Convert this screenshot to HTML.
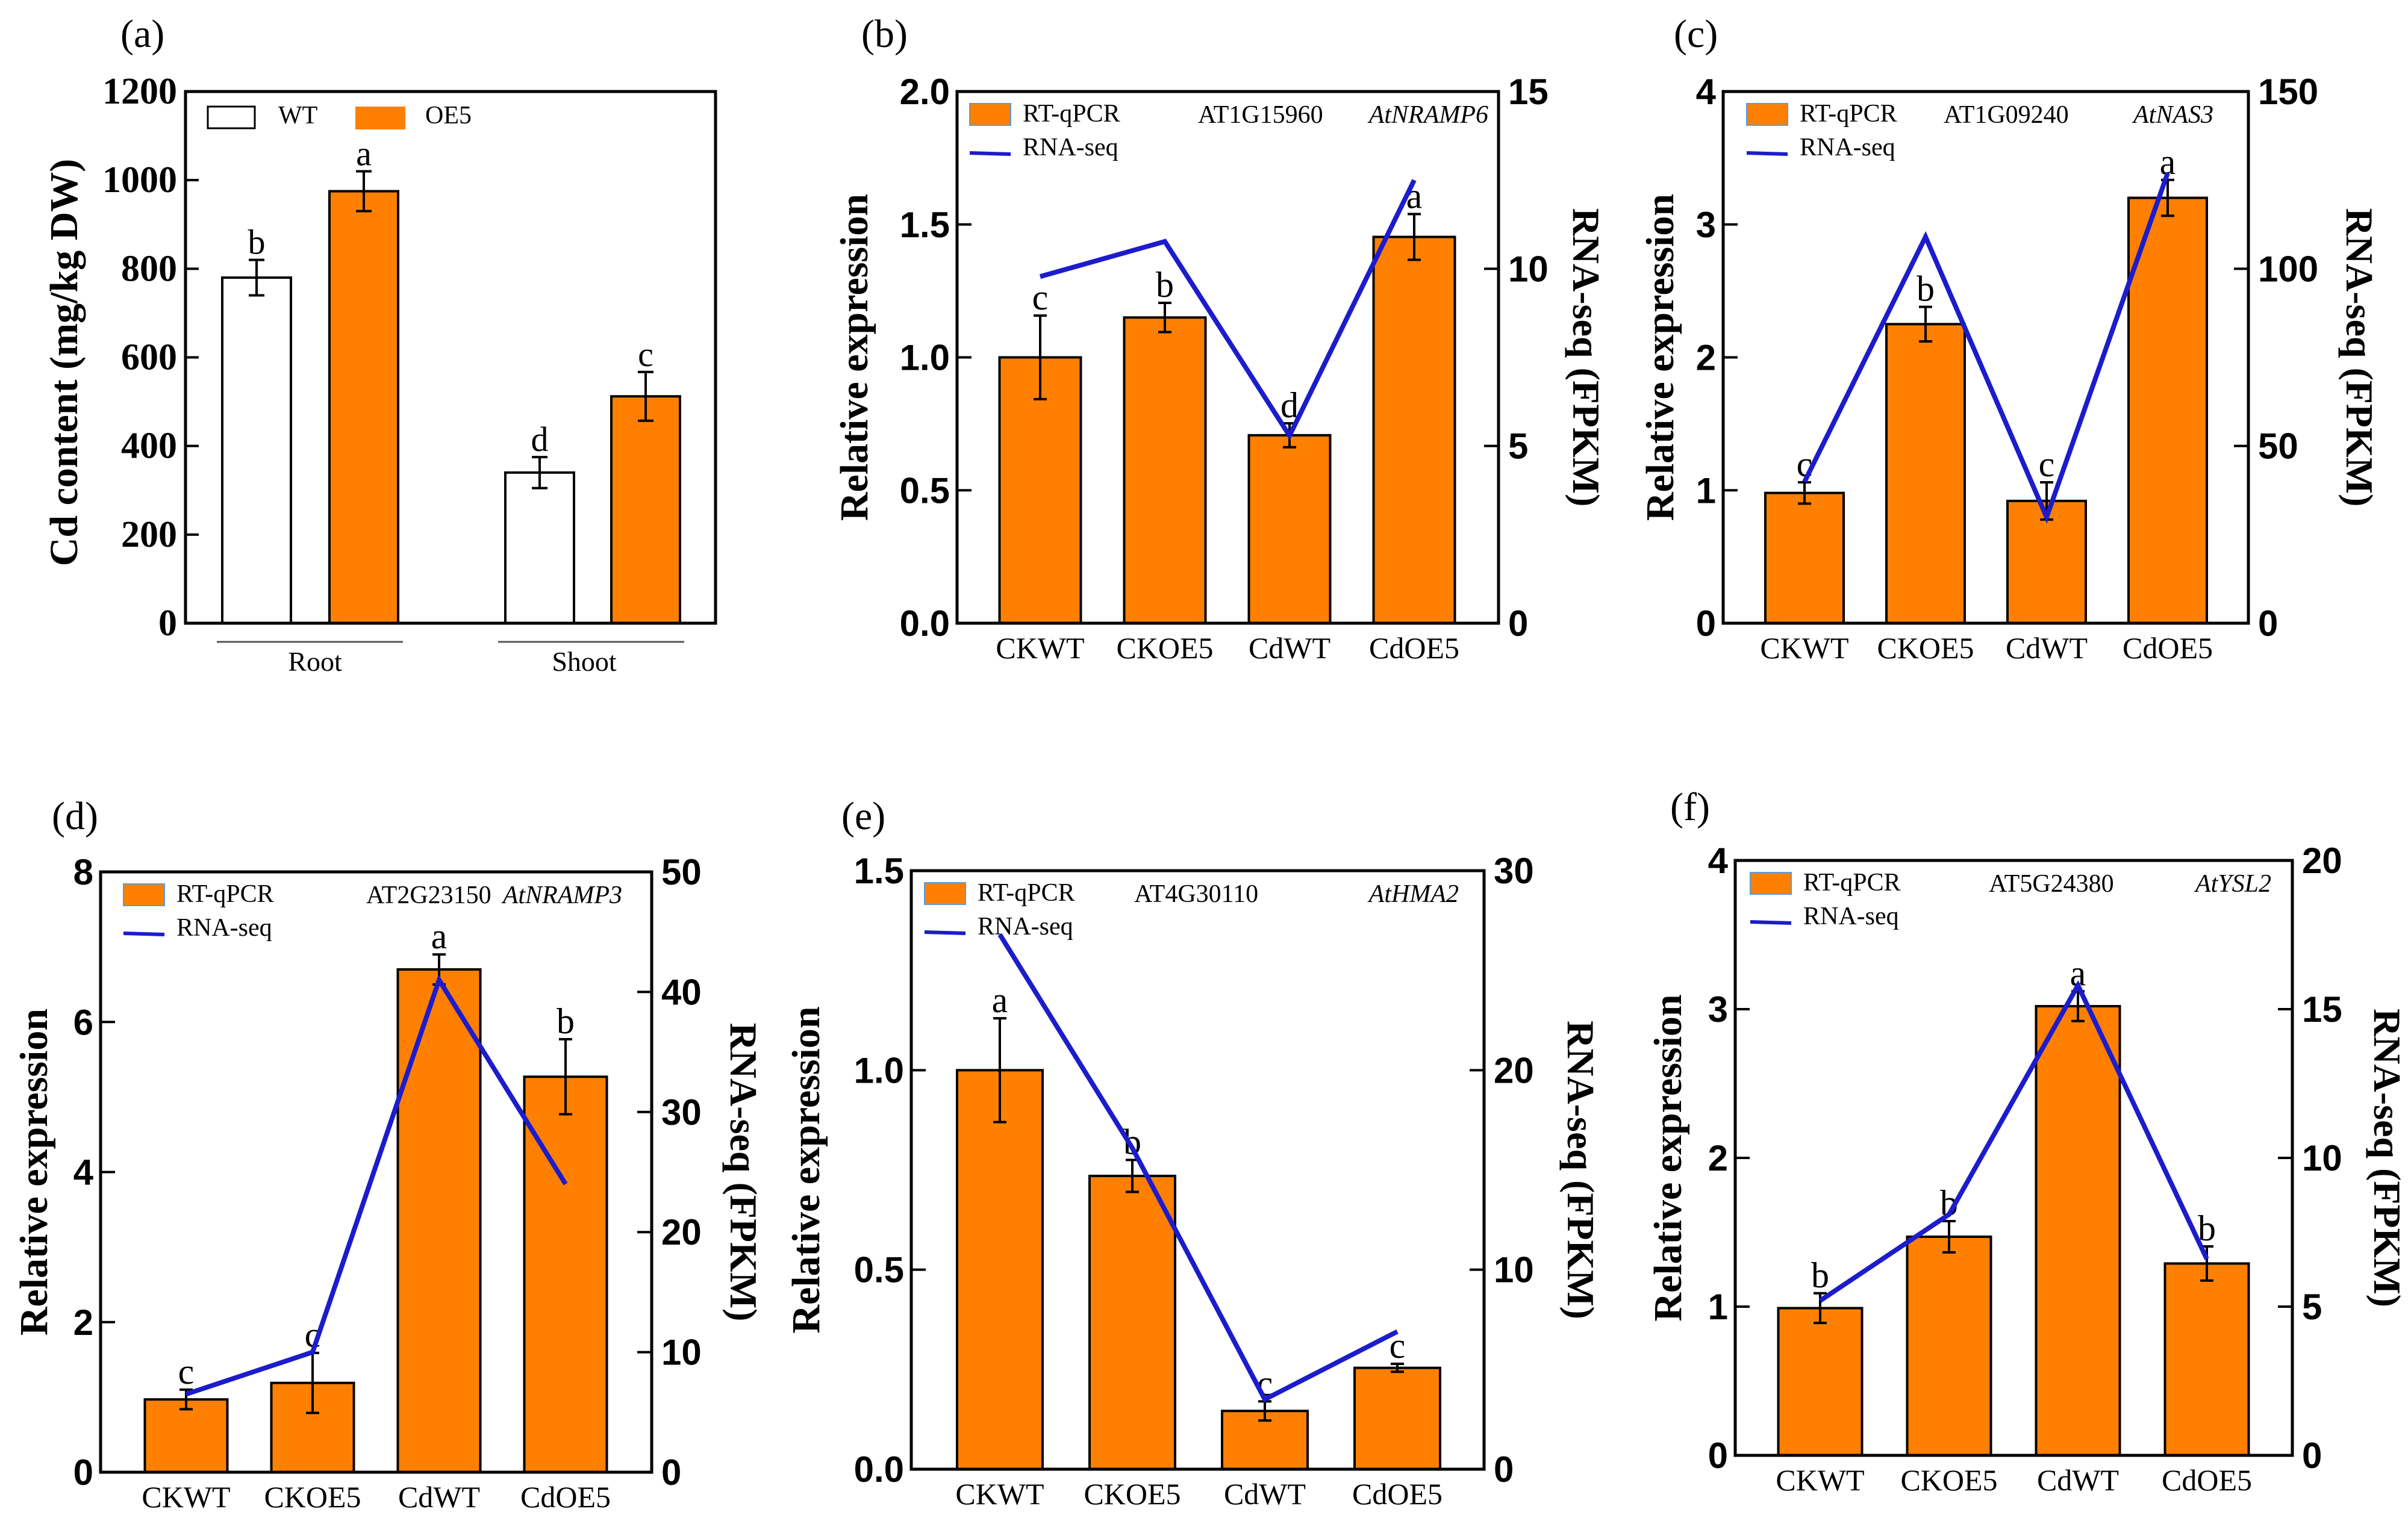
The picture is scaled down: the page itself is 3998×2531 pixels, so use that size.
<!DOCTYPE html>
<html><head><meta charset="utf-8"><style>
html,body{margin:0;padding:0;background:#fff;}
svg{display:block;}
</style></head><body>
<svg id="fig" xmlns="http://www.w3.org/2000/svg" width="3998" height="2531" viewBox="0 0 3998 2531"></svg>
<script>
// ---------- data ----------
const groupsA = ["Root", "Shoot"];
const aWT = [780, 340];
const aWTErr = [40, 35];
const aOE5 = [975, 512];
const aOE5Err = [45, 55];
const aWTLetters = ["b", "d"];
const aOE5Letters = ["a", "c"];
const aTicks = [0, 200, 400, 600, 800, 1000, 1200];

const cats = ["CKWT", "CKOE5", "CdWT", "CdOE5"];

const bBars = [1.0, 1.15, 0.707, 1.453];
const bErr = [0.157, 0.055, 0.045, 0.086];
const bLine = [9.78, 10.77, 5.29, 12.5];
const bLetters = ["c", "b", "d", "a"];
const bLeftTicks = ["0.0", "0.5", "1.0", "1.5", "2.0"];
const bRightTicks = ["0", "5", "10", "15"];

const cBars = [0.98, 2.25, 0.92, 3.2];
const cErr = [0.08, 0.13, 0.14, 0.135];
const cLine = [39.9, 109, 29.9, 127];
const cLetters = ["c", "b", "c", "a"];
const cLeftTicks = ["0", "1", "2", "3", "4"];
const cRightTicks = ["0", "50", "100", "150"];

const dBars = [0.97, 1.19, 6.7, 5.27];
const dErr = [0.13, 0.4, 0.2, 0.5];
const dLine = [6.5, 10, 41, 24];
const dLetters = ["c", "c", "a", "b"];
const dLeftTicks = ["0", "2", "4", "6", "8"];
const dRightTicks = ["0", "10", "20", "30", "40", "50"];

const eBars = [1.0, 0.735, 0.146, 0.254];
const eErr = [0.13, 0.04, 0.024, 0.01];
const eLine = [26.8, 16.1, 3.5, 6.9];
const eLetters = ["a", "b", "c", "c"];
const eLeftTicks = ["0.0", "0.5", "1.0", "1.5"];
const eRightTicks = ["0", "10", "20", "30"];

const fBars = [0.99, 1.47, 3.02, 1.29];
const fErr = [0.1, 0.105, 0.1, 0.115];
const fLine = [5.2, 8.1, 15.8, 6.6];
const fLetters = ["b", "b", "a", "b"];
const fLeftTicks = ["0", "1", "2", "3", "4"];
const fRightTicks = ["0", "5", "10", "15", "20"];

// ---------- helpers ----------
const NS = "http://www.w3.org/2000/svg";
const svg = document.getElementById("fig");
const SERIF = '"Liberation Serif", serif';
const SANS = '"Liberation Sans", sans-serif';
const ORANGE = "#ff8000";
const BLUE = "#1c1ccc";

function mk(parent, tag, attrs, name) {
  const e = document.createElementNS(NS, tag);
  for (const k in attrs) e.setAttribute(k, attrs[k]);
  
  
  parent.appendChild(e);
  return e;
}
function txt(parent, x, y, s, size, opts, name) {
  const a = Object.assign({x: x, y: y, "font-size": size, "font-family": SERIF, fill: "#000"}, opts || {});
  const t = mk(parent, "text", a, name);
  t.textContent = s;
  return t;
}

// ---------- panel (a) ----------
(function () {
  const g = mk(svg, "g", {}, "panel-a");
  const L = 308, R = 1188, T = 152, B = 1035, yMax = 1200;
  const y = v => B - (v / yMax) * (B - T);
  txt(g, 200, 78, "(a)", 66, {}, "panel-label-a");
  const wtX = [369, 839], oeX = [547, 1015], bw = 114;
  for (let i = 0; i < groupsA.length; i++) {
    mk(g, "rect", {x: wtX[i], y: y(aWT[i]), width: bw, height: B - y(aWT[i]), fill: "#fff", stroke: "#000", "stroke-width": 4}, "bar-wt-" + groupsA[i].toLowerCase());
    mk(g, "rect", {x: oeX[i], y: y(aOE5[i]), width: bw, height: B - y(aOE5[i]), fill: ORANGE, stroke: "#000", "stroke-width": 4}, "bar-oe5-" + groupsA[i].toLowerCase());
    [[wtX[i], aWT[i], aWTErr[i], aWTLetters[i], "wt"], [oeX[i], aOE5[i], aOE5Err[i], aOE5Letters[i], "oe5"]].forEach(function (d) {
      const cx = d[0] + bw / 2;
      mk(g, "path", {d: `M${cx},${y(d[1] + d[2])}V${y(d[1] - d[2])}M${cx - 13},${y(d[1] + d[2])}H${cx + 13}M${cx - 13},${y(d[1] - d[2])}H${cx + 13}`, stroke: "#000", "stroke-width": 4, fill: "none"}, "error-bar-" + d[4]);
      txt(g, cx, y(d[1] + d[2]) - 10, d[3], 58, {"text-anchor": "middle"}, "significance-letter");
    });
  }
  mk(g, "rect", {x: L, y: T, width: R - L, height: B - T, fill: "none", stroke: "#000", "stroke-width": 5}, "plot-frame-a");
  aTicks.forEach(function (v) {
    mk(g, "line", {x1: L, x2: L + 22, y1: y(v), y2: y(v), stroke: "#000", "stroke-width": 4}, "y-tick");
    txt(g, L - 14, y(v) + 20, String(v), 62, {"text-anchor": "end", "font-weight": "bold"}, "y-tick-label");
  });
  txt(g, 0, 0, "Cd content (mg/kg DW)", 66, {"text-anchor": "middle", "font-weight": "bold", transform: "translate(128,602) rotate(-90)"}, "y-axis-title-a");
  mk(g, "line", {x1: 360, x2: 669, y1: 1066, y2: 1066, stroke: "#555", "stroke-width": 3}, "group-line-root");
  mk(g, "line", {x1: 827, x2: 1136, y1: 1066, y2: 1066, stroke: "#555", "stroke-width": 3}, "group-line-shoot");
  txt(g, 523, 1114, groupsA[0], 46, {"text-anchor": "middle"}, "x-label-root");
  txt(g, 970, 1114, groupsA[1], 46, {"text-anchor": "middle"}, "x-label-shoot");
  mk(g, "rect", {x: 345, y: 177, width: 78, height: 36, fill: "#fff", stroke: "#000", "stroke-width": 3}, "legend-swatch-wt");
  txt(g, 462, 205, "WT", 42, {}, "legend-label-wt");
  mk(g, "rect", {x: 590, y: 177, width: 83, height: 38, fill: ORANGE}, "legend-swatch-oe5");
  txt(g, 706, 205, "OE5", 42, {}, "legend-label-oe5");
})();

// ---------- dual-axis panels ----------
function dualPanel(p, bars, errs, line, letters, leftTicks, rightTicks) {
  const g = mk(svg, "g", {}, "panel-" + p.id);
  const L = p.L, R = p.R, T = p.T, B = p.B;
  const lMax = parseFloat(leftTicks[leftTicks.length - 1]);
  const rMax = parseFloat(rightTicks[rightTicks.length - 1]);
  const yl = v => B - (v / lMax) * (B - T);
  const yr = v => B - (v / rMax) * (B - T);
  const xc = i => L + p.off + i * p.step;
  txt(g, p.labX, p.labY, "(" + p.id + ")", 66, {}, "panel-label-" + p.id);
  for (let i = 0; i < cats.length; i++) {
    const cx = xc(i);
    mk(g, "rect", {x: cx - p.bw / 2, y: yl(bars[i]), width: p.bw, height: B - yl(bars[i]), fill: ORANGE, stroke: "#000", "stroke-width": 4}, "bar-" + cats[i].toLowerCase());
    const t = yl(bars[i] + errs[i]), b = yl(bars[i] - errs[i]);
    mk(g, "path", {d: `M${cx},${t}V${b}M${cx - 11},${t}H${cx + 11}M${cx - 11},${b}H${cx + 11}`, stroke: "#000", "stroke-width": 4, fill: "none"}, "error-bar-" + cats[i].toLowerCase());
    txt(g, cx, t - 10, letters[i], 60, {"text-anchor": "middle"}, "significance-letter");
    txt(g, cx, B + 58, cats[i], 50, {"text-anchor": "middle"}, "x-tick-label");
  }
  let d = "";
  for (let i = 0; i < line.length; i++) d += (i ? "L" : "M") + xc(i) + "," + yr(line[i]);
  mk(g, "path", {d: d, stroke: BLUE, "stroke-width": 8, fill: "none", "stroke-linejoin": "miter"}, "rna-seq-line");
  mk(g, "rect", {x: L, y: T, width: R - L, height: B - T, fill: "none", stroke: "#000", "stroke-width": 5}, "plot-frame-" + p.id);
  leftTicks.forEach(function (s) {
    const v = parseFloat(s);
    mk(g, "line", {x1: L, x2: L + 24, y1: yl(v), y2: yl(v), stroke: "#000", "stroke-width": 4}, "left-y-tick");
    txt(g, L - 12, yl(v) + 21, s, 60, {"text-anchor": "end", "font-weight": "bold", "font-family": SANS}, "left-y-tick-label");
  });
  rightTicks.forEach(function (s) {
    const v = parseFloat(s);
    mk(g, "line", {x1: R - 24, x2: R, y1: yr(v), y2: yr(v), stroke: "#000", "stroke-width": 4}, "right-y-tick");
    txt(g, R + 16, yr(v) + 21, s, 60, {"font-weight": "bold", "font-family": SANS}, "right-y-tick-label");
  });
  const cy = (T + B) / 2;
  txt(g, 0, 0, "Relative expression", 66, {"text-anchor": "middle", "font-weight": "bold", transform: `translate(${p.ltx},${cy}) rotate(-90)`}, "left-y-axis-title");
  txt(g, 0, 0, "RNA-seq (FPKM)", 64, {"text-anchor": "middle", "font-weight": "bold", transform: `translate(${p.rtx},${cy}) rotate(90)`}, "right-y-axis-title");
  const sx = L + p.sdx, sy = T + 20;
  mk(g, "rect", {x: sx, y: sy, width: 68, height: 36, fill: ORANGE, stroke: "#5b9bd5", "stroke-width": 2}, "legend-swatch-rt-qpcr");
  txt(g, sx + 88, sy + 30, "RT-qPCR", 42, {}, "legend-label-rt-qpcr");
  mk(g, "line", {x1: sx, x2: sx + 68, y1: sy + 82, y2: sy + 84, stroke: BLUE, "stroke-width": 6}, "legend-line-rna-seq");
  txt(g, sx + 88, sy + 86, "RNA-seq", 42, {}, "legend-label-rna-seq");
  txt(g, L + p.gdx, sy + 32, p.gene, 42, {}, "gene-id");
  txt(g, R - p.ndx, sy + 32, p.name, 42, {"text-anchor": "end", "font-style": "italic"}, "gene-name");
}

dualPanel({id: "b", L: 1589, R: 2488, T: 152, B: 1035, off: 138, step: 207, bw: 135, labX: 1430, labY: 78, ltx: 1440, rtx: 2612, sdx: 21, gdx: 400, ndx: 17, gene: "AT1G15960", name: "AtNRAMP6"}, bBars, bErr, bLine, bLetters, bLeftTicks, bRightTicks);
dualPanel({id: "c", L: 2861, R: 3733, T: 152, B: 1035, off: 135, step: 201, bw: 130, labX: 2779, labY: 78, ltx: 2778, rtx: 3896, sdx: 39, gdx: 366, ndx: 58, gene: "AT1G09240", name: "AtNAS3"}, cBars, cErr, cLine, cLetters, cLeftTicks, cRightTicks);
dualPanel({id: "d", L: 167, R: 1082, T: 1448, B: 2445, off: 142, step: 210, bw: 137, labX: 86, labY: 1377, ltx: 78, rtx: 1213, sdx: 38, gdx: 441, ndx: 49, gene: "AT2G23150", name: "AtNRAMP3"}, dBars, dErr, dLine, dLetters, dLeftTicks, dRightTicks);
dualPanel({id: "e", L: 1513, R: 2464, T: 1446, B: 2440, off: 147, step: 220, bw: 142, labX: 1397, labY: 1377, ltx: 1360, rtx: 2603, sdx: 22, gdx: 370, ndx: 42, gene: "AT4G30110", name: "AtHMA2"}, eBars, eErr, eLine, eLetters, eLeftTicks, eRightTicks);
dualPanel({id: "f", L: 2881, R: 3806, T: 1429, B: 2417, off: 141, step: 214, bw: 139, labX: 2773, labY: 1362, ltx: 2791, rtx: 3942, sdx: 25, gdx: 421, ndx: 35, gene: "AT5G24380", name: "AtYSL2"}, fBars, fErr, fLine, fLetters, fLeftTicks, fRightTicks);
</script>
</body></html>
